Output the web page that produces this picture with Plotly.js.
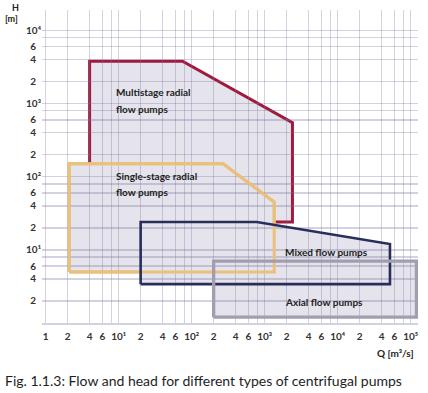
<!DOCTYPE html>
<html><head><meta charset="utf-8">
<script src="https://cdn.plot.ly/plotly-3.0.1.min.js"></script>
<style>html,body{margin:0;padding:0;background:#fff}#chart{width:428px;height:393px}</style>
</head><body><div id="chart"></div>
<script>
// ---- data (Q in m^3/s, H in m) ----
const multistageQ = [4, 4, 75, 2400, 2400, 4];
const multistageH = [24, 3800, 3800, 550, 24, 24];
const singleStageQ = [2.1, 2.1, 270, 1350, 1350, 2.1];
const singleStageH = [5, 150, 150, 45, 5, 5];
const mixedQ = [20, 20, 780, 52000, 52000, 20];
const mixedH = [3.4, 24, 24, 12, 3.4, 3.4];
const axialQ = [200, 200, 120000, 120000, 200];
const axialH = [1.2, 7, 7, 1.2, 1.2];

const regionLabels = ['Multistage radial', 'flow pumps', 'Single-stage radial', 'flow pumps', 'Mixed flow pumps', 'Axial flow pumps'];

const xTickVals = [1,2,4,6,10,20,40,60,100,200,400,600,1000,2000,4000,6000,10000,20000,40000,60000,100000];
const xTickText = ['1','2','4','6','10¹','2','4','6','10²','2','4','6','10³','2','4','6','10⁴','2','4','6','10⁵'];
const xGridExtra = [8,80,800,8000,80000];
const yTickVals = [2,4,6,10,20,40,60,100,200,400,600,1000,2000,4000,6000,10000];
const yTickText = ['2','4','6','10¹','2','4','6','10²','2','4','6','10³','2','4','6','10⁴'];
const yGridExtra = [8,80,800,8000];

const captionText = 'Fig. 1.1.3: Flow and head for different types of centrifugal pumps';

// ---- styles ----
const FONT = 'Lato, "Open Sans", sans-serif';
const RED = '#9e1b3e', YELLOW = '#eac07a', NAVY = '#282e5a', GRAY = '#a09eaf';
const FILL = '#e5e3eb';
const GRID = 'rgba(120,115,160,0.32)';
const XR = [-0.05, 5.1], YR = [0, 4.28];
const NB = '\u00a0\u00a0';

const fillTrace = (x, y, lc, lw) => ({x, y, xaxis:'x', yaxis:'y', type:'scatter', mode:'lines',
  fill:'toself', fillcolor: FILL, line:{color: lc, width: lw}, hoverinfo:'skip', showlegend:false});
const lineTrace = (x, y, lc, lw) => ({x, y, xaxis:'x2', yaxis:'y2', type:'scatter', mode:'lines',
  line:{color: lc, width: lw}, hoverinfo:'skip', showlegend:false});

const data = [
  fillTrace(multistageQ, multistageH, RED, 3),
  fillTrace(singleStageQ, singleStageH, YELLOW, 3),
  fillTrace(mixedQ, mixedH, NAVY, 0),
  fillTrace(axialQ, axialH, GRAY, 0),
  lineTrace(singleStageQ, singleStageH, YELLOW, 3),
  lineTrace(mixedQ, mixedH, NAVY, 2.6),
  lineTrace(axialQ, axialH, GRAY, 3.3)
];

const hidden = {type:'log', visible:false, showgrid:false, zeroline:false, showline:false, showticklabels:false, ticks:''};
const tickFont = {family: FONT, size: 10, color:'#333333', weight: 700};
const lblFont = {family: FONT, size: 10, color:'#222222', weight: 700};

// label anchor positions (log units)
const lblPos = [[0.936,3.163],[0.936,2.926],[0.936,2.010],[0.936,1.795],[3.255,0.967],[3.255,0.291]];
const annotations = regionLabels.map((t,i) => ({text:t, xref:'x2', yref:'y2', x:lblPos[i][0], y:lblPos[i][1],
  xanchor:'left', yanchor:'middle', showarrow:false, font:lblFont}));
annotations.push(
  {text:'H', xref:'paper', yref:'paper', x:-0.0705, y:1.008, xanchor:'center', yanchor:'middle', showarrow:false, borderpad:0, font:{family:FONT,size:9,color:'#222',weight:700}},
  {text:'[m]', xref:'paper', yref:'paper', x:-0.082, y:0.973, xanchor:'center', yanchor:'middle', showarrow:false, borderpad:0, font:{family:FONT,size:9,color:'#222',weight:700}},
  {text:'Q [m³/s]', xref:'paper', yref:'paper', x:0.939, y:-0.096, xanchor:'center', yanchor:'middle', showarrow:false, font:{family:FONT,size:10,color:'#222',weight:700}},
  {text:captionText, xref:'paper', yref:'paper', x:-0.1037, y:-0.185, xanchor:'left', yanchor:'middle', showarrow:false, font:{family:FONT,size:14,color:'#1e1e1e'}}
);

const layout = {
  width:428, height:393,
  margin:{l:42, r:10, t:10, b:70},
  paper_bgcolor:'#ffffff', plot_bgcolor:'rgba(0,0,0,0)',
  showlegend:false,
  xaxis: Object.assign({}, hidden, {range: XR, domain:[0,1], anchor:'y'}),
  yaxis: Object.assign({}, hidden, {range: YR, domain:[0,1], anchor:'x'}),
  xaxis2: {type:'log', range: XR, domain:[0,1], anchor:'y2', tickmode:'array', tickvals:xTickVals, ticktext:xTickText,
    showgrid:true, gridcolor:GRID, gridwidth:1.5, zeroline:false, showline:true, linecolor:GRID, linewidth:1.5,
    ticks:'', ticklabelstandoff:3, tickfont:tickFont,
    minor:{tickmode:'array', tickvals:xGridExtra, showgrid:true, gridcolor:GRID, gridwidth:1.5, ticks:''}},
  yaxis2: {type:'log', range: YR, domain:[0,1], anchor:'x2', tickmode:'array', tickvals:yTickVals,
    ticktext:yTickText.map(t => t.indexOf('10') === 0 ? t : t + NB),
    showgrid:true, gridcolor:GRID, gridwidth:1.5, zeroline:false, showline:false, ticks:'', tickfont:tickFont,
    minor:{tickmode:'array', tickvals:yGridExtra, showgrid:true, gridcolor:GRID, gridwidth:1.5, ticks:''}},
  annotations
};

Plotly.newPlot('chart', data, layout, {staticPlot:true, displayModeBar:false});
</script>
</body></html>
